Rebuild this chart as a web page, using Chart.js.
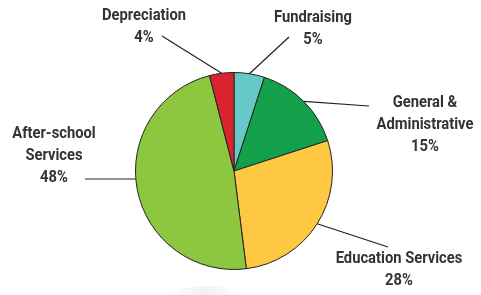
<!DOCTYPE html>
<html>
<head>
<meta charset="utf-8">
<script src="https://cdn.jsdelivr.net/npm/chart.js@4/dist/chart.umd.min.js"></script>
<style>
  html, body { margin: 0; padding: 0; background: #fff; }
  canvas { display: block; }
</style>
</head>
<body>
<canvas id="pie" width="481" height="295"></canvas>
<script>
const categories = ['Fundraising', 'General & Administrative', 'Education Services', 'After-school Services', 'Depreciation']
const shares = [5, 15, 28, 48, 4]
const colors = ['#66c9c8', '#12a04b', '#fec843', '#8dc63f', '#d9232f']

// label text lines and where each label sits, plus where its leader line ends
const labelLines = [
  ['Fundraising', '5%'],
  ['General &', 'Administrative', '15%'],
  ['Education Services', '28%'],
  ['After-school', 'Services', '48%'],
  ['Depreciation', '4%']
]
const labelLayout = [
  {x: 313, y: 18, lineEnd: [289, 37]},
  {x: 425, y: 103, lineEnd: [369, 106]},
  {x: 399, y: 259, lineEnd: [388, 247]},
  {x: 54, y: 134, lineEnd: [85, 179], anchorY: 179},
  {x: 144, y: 16, lineEnd: [162, 36]}
]

const FONT = 'bold 17px Roboto, "Liberation Sans", sans-serif'
const LINE_H = 22
const REF_WORD = 'Depreciation', REF_WIDTH = 84   // the original uses a condensed face

const calloutPlugin = {
  id: 'callouts',
  beforeDraw(chart) {
    // faint smudge under the pie, as in the source image
    const ctx = chart.ctx
    ctx.save()
    const g = ctx.createRadialGradient(205, 298, 2, 205, 298, 36)
    g.addColorStop(0, 'rgba(0,0,0,0.06)')
    g.addColorStop(1, 'rgba(0,0,0,0)')
    ctx.fillStyle = g
    ctx.beginPath()
    ctx.ellipse(205, 298, 40, 12, 0, 0, Math.PI * 2)
    ctx.fill()
    ctx.restore()
  },
  afterDraw(chart) {
    const ctx = chart.ctx
    const arcs = chart.getDatasetMeta(0).data
    ctx.save()
    ctx.font = FONT
    const squeeze = REF_WIDTH / ctx.measureText(REF_WORD).width
    ctx.strokeStyle = '#222'
    ctx.lineWidth = 1.2
    arcs.forEach((arc, i) => {
      const p = arc.getProps(['x', 'y', 'startAngle', 'endAngle', 'outerRadius'], true)
      const lay = labelLayout[i]
      let ax, ay
      if (lay.anchorY !== undefined) {
        // horizontal leader: meet the circle at the label's height
        ay = lay.anchorY
        ax = p.x - Math.sqrt(p.outerRadius * p.outerRadius - (ay - p.y) * (ay - p.y))
      } else {
        const mid = (p.startAngle + p.endAngle) / 2
        ax = p.x + Math.cos(mid) * p.outerRadius
        ay = p.y + Math.sin(mid) * p.outerRadius
      }
      ctx.beginPath()
      ctx.moveTo(lay.lineEnd[0], lay.lineEnd[1])
      ctx.lineTo(ax, ay)
      ctx.stroke()

      ctx.save()
      ctx.translate(lay.x, lay.y)
      ctx.scale(squeeze, 1)
      ctx.fillStyle = '#333'
      ctx.textAlign = 'center'
      ctx.textBaseline = 'middle'
      labelLines[i].forEach((t, j) => ctx.fillText(t, 0, j * LINE_H))
      ctx.restore()
    })
    ctx.restore()
  }
}

new Chart(document.getElementById('pie'), {
  type: 'pie',
  data: {
    labels: categories,
    datasets: [{
      data: shares,
      backgroundColor: colors,
      borderColor: '#222',
      borderWidth: 1
    }]
  },
  options: {
    responsive: false,
    devicePixelRatio: 1,
    animation: false,
    layout: {padding: {left: 135, right: 148, top: 72, bottom: 25}},
    plugins: {
      legend: {display: false},
      tooltip: {enabled: false}
    }
  },
  plugins: [calloutPlugin]
})
</script>
</body>
</html>
